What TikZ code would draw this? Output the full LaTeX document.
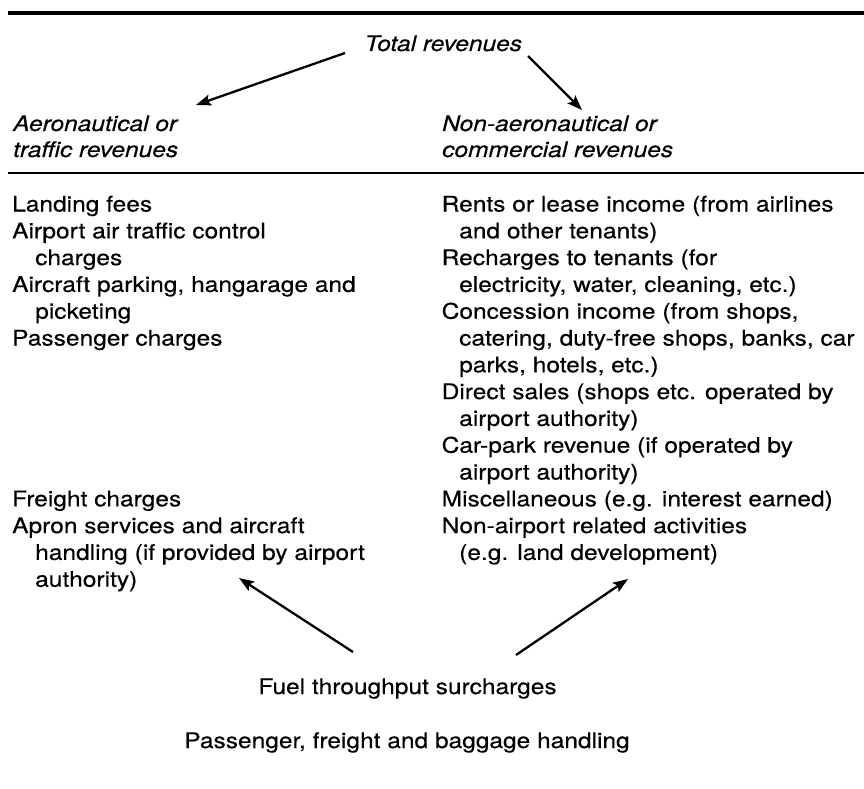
\documentclass[tikz,border=0pt]{standalone}
\usepackage{fontspec}
\setmainfont{TeX Gyre Heros}[FakeStretch=1.14,FakeBold=0.35]
\usetikzlibrary{arrows.meta}
\begin{document}
\begin{tikzpicture}[x=1pt,y=-1pt,
  txt/.style={inner sep=0pt, anchor=base west, font=\fontsize{21.5}{26.8}\selectfont},
  ctr/.style={txt, anchor=base},
  hd/.style={txt, font=\fontsize{21.5}{26.8}\selectfont\itshape},
  arr/.style={line width=2.3pt, -{Stealth[length=15pt,width=11pt,inset=3pt]}},
  rulethick/.style={line width=3.4pt},
  rulethin/.style={line width=1.8pt}]
\useasboundingbox (0,0) rectangle (864,789);
\clip (0,0) rectangle (864,789);

% table rules
\draw[rulethick] (8,13) -- (864,13);
\draw[rulethin] (8,173) -- (864,173);

% headings
\node[hd] (tot) at (364.5,51) {Total revenues};
\node[hd] (aero1) at (13,131) {Aeronautical or};
\node[hd] (aero2) at (13,157) {traffic revenues};
\node[hd] (non1) at (442,131) {Non-aeronautical or};
\node[hd] (non2) at (442,157) {commercial revenues};

% aeronautical items
\def\ya{211.5}
\def\dy{26.8}
\node[txt] (l0)  at (12,\ya+0*\dy)  {Landing fees};
\node[txt] (l1)  at (12,\ya+1*\dy)  {Airport air traffic control};
\node[txt] (l2)  at (35,\ya+2*\dy)  {charges};
\node[txt] (l3)  at (12,\ya+3*\dy)  {Aircraft parking, hangarage and};
\node[txt] (l4)  at (35,\ya+4*\dy)  {picketing};
\node[txt] (l5)  at (12,\ya+5*\dy)  {Passenger charges};
\node[txt] (l11) at (12,\ya+11*\dy) {Freight charges};
\node[txt] (l12) at (12,\ya+12*\dy) {Apron services and aircraft};
\node[txt] (l13) at (35,\ya+13*\dy) {handling (if provided by airport};
\node[txt] (l14) at (35,\ya+14*\dy) {authority)};

% commercial items
\node[txt] (r0)  at (441.5,\ya+0*\dy)  {Rents or lease income (from airlines};
\node[txt] (r1)  at (459,\ya+1*\dy)    {and other tenants)};
\node[txt] (r2)  at (441.5,\ya+2*\dy)  {Recharges to tenants (for};
\node[txt] (r3)  at (459,\ya+3*\dy)    {electricity, water, cleaning, etc.)};
\node[txt] (r4)  at (441.5,\ya+4*\dy)  {Concession income (from shops,};
\node[txt] (r5)  at (459,\ya+5*\dy)    {catering, duty-free shops, banks, car};
\node[txt] (r6)  at (459,\ya+6*\dy)    {parks, hotels, etc.)};
\node[txt] (r7)  at (441.5,\ya+7*\dy)  {Direct sales (shops etc. operated by};
\node[txt] (r8)  at (459,\ya+8*\dy)    {airport authority)};
\node[txt] (r9)  at (441.5,\ya+9*\dy)  {Car-park revenue (if operated by};
\node[txt] (r10) at (459,\ya+10*\dy)   {airport authority)};
\node[txt] (r11) at (441.5,\ya+11*\dy) {Miscellaneous (e.g. interest earned)};
\node[txt] (r12) at (441.5,\ya+12*\dy) {Non-airport related activities};
\node[txt] (r13) at (459,\ya+13*\dy)   {(e.g. land development)};

% shared items
\node[ctr] (fuel) at (407.5,694) {Fuel throughput surcharges};
\node[ctr] (hand) at (407,748) {Passenger, freight and baggage handling};

% arrow ends
\coordinate (totL) at (345,53);
\coordinate (totR) at (528,56);
\coordinate (aeroT) at (196,105);
\coordinate (nonT) at (582,110);
\coordinate (fuelL) at (353,652);
\coordinate (fuelR) at (516,655);
\coordinate (aeroB) at (239,578);
\coordinate (nonB) at (628,579);

\draw[arr] (totL) -- (aeroT);
\draw[arr] (totR) -- (nonT);
\draw[arr] (fuelL) -- (aeroB);
\draw[arr] (fuelR) -- (nonB);
\end{tikzpicture}
\end{document}
